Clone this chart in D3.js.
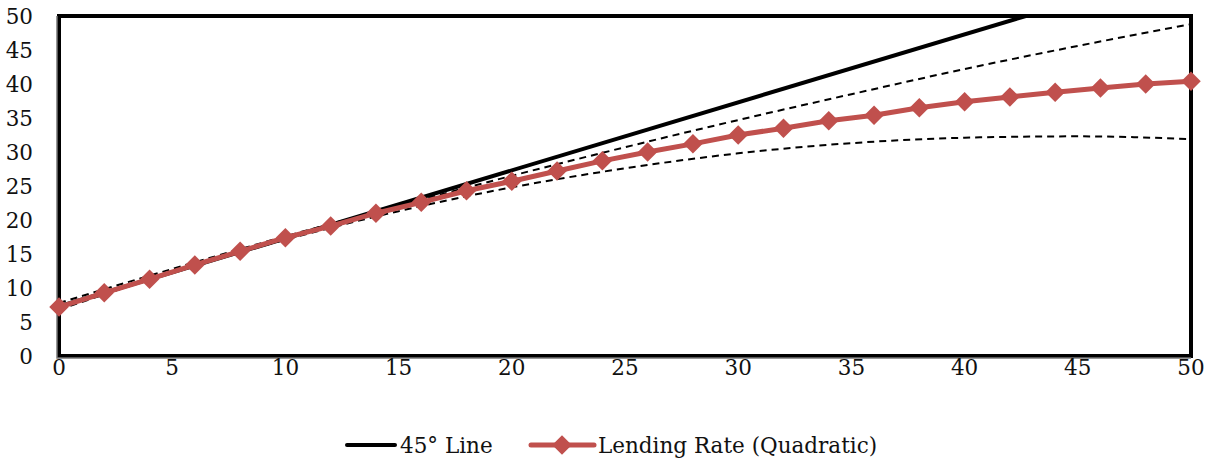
<!DOCTYPE html>
<meta charset="utf-8">
<style>
  body { margin: 0; background: #fff; }
  text { font-family: "DejaVu Serif", serif; font-size: 21.5px; fill: #111; }
</style>
<svg width="1215" height="465"></svg>
<script src="https://d3js.org/d3.v7.min.js"></script>
<script>
  var svg = d3.select("svg");

  // data
  var rateX = [0, 2, 4, 6, 8, 10, 12, 14, 16, 18, 20, 22, 24, 26, 28, 30, 32, 34, 36, 38, 40, 42, 44, 46, 48, 50];
  var rateY = [7.2, 9.3, 11.3, 13.4, 15.4, 17.4, 19.1, 21.0, 22.6, 24.3, 25.7, 27.2, 28.7, 30.0, 31.2, 32.5,
               33.5, 34.6, 35.4, 36.5, 37.4, 38.1, 38.8, 39.4, 40.0, 40.4];
  var bandX = [0, 5, 10, 15, 20, 25, 30, 35, 40, 45, 50];
  var upperY = [7.8, 12.8, 17.6, 22.1, 26.5, 30.7, 34.7, 38.5, 42.2, 45.6, 48.8];
  var lowerY = [6.8, 12.3, 17.1, 21.3, 24.8, 27.6, 29.8, 31.3, 32.1, 32.3, 31.9];
  var lineX = [0, 42.7];
  var lineY = [7.3, 50];
  var xTicks = [0, 5, 10, 15, 20, 25, 30, 35, 40, 45, 50];
  var yTicks = [0, 5, 10, 15, 20, 25, 30, 35, 40, 45, 50];

  var pl = 59, pr = 1191, pt = 16, pb = 356;
  var x = d3.scaleLinear().domain([0, 50]).range([pl, pr]);
  var y = d3.scaleLinear().domain([0, 50]).range([pb, pt]);

  function pts(xs, ys) {
    return xs.map(function(v, i) { return [v, ys[i]]; });
  }
  var line = d3.line()
    .x(function(d) { return x(d[0]); })
    .y(function(d) { return y(d[1]); });
  var smooth = d3.line()
    .curve(d3.curveMonotoneX)
    .x(function(d) { return x(d[0]); })
    .y(function(d) { return y(d[1]); });

  // frame
  svg.append("rect")
    .attr("x", pl).attr("y", pt)
    .attr("width", pr - pl).attr("height", pb - pt)
    .attr("fill", "none").attr("stroke", "#000").attr("stroke-width", 4);
  svg.append("path")
    .attr("d", "M" + (pl - 2) + "," + pt + "V" + (pb + 2) + "H" + pr)
    .attr("fill", "none").attr("stroke", "#777").attr("stroke-width", 1.5);

  // axis labels
  svg.append("g").selectAll("text")
    .data(xTicks).enter().append("text")
    .attr("x", function(d) { return x(d); })
    .attr("y", 375)
    .attr("text-anchor", "middle")
    .text(function(d) { return d; });
  svg.append("g").selectAll("text")
    .data(yTicks).enter().append("text")
    .attr("x", 33)
    .attr("y", function(d) { return y(d) + 8; })
    .attr("text-anchor", "end")
    .text(function(d) { return d; });

  // dashed bands
  [upperY, lowerY].forEach(function(ys) {
    svg.append("path")
      .attr("d", smooth(pts(bandX, ys)))
      .attr("fill", "none").attr("stroke", "#000")
      .attr("stroke-width", 2).attr("stroke-dasharray", "7,5");
  });

  // 45 degree line
  svg.append("path")
    .attr("d", line(pts(lineX, lineY)))
    .attr("fill", "none").attr("stroke", "#000").attr("stroke-width", 4);

  // lending rate
  var red = "#C0504D";
  svg.append("path")
    .attr("d", line(pts(rateX, rateY)))
    .attr("fill", "none").attr("stroke", red).attr("stroke-width", 5)
    .attr("stroke-linejoin", "round");
  var diamond = d3.symbol().type(d3.symbolSquare).size(190);
  svg.append("g").selectAll("path")
    .data(pts(rateX, rateY)).enter().append("path")
    .attr("d", diamond)
    .attr("fill", red)
    .attr("transform", function(d) { return "translate(" + x(d[0]) + "," + y(d[1]) + ") rotate(45)"; });

  // legend
  var lg = svg.append("g");
  lg.append("line").attr("x1", 347).attr("x2", 395).attr("y1", 445).attr("y2", 445)
    .attr("stroke", "#000").attr("stroke-width", 4).attr("stroke-linecap", "round");
  lg.append("text").attr("x", 400).attr("y", 453).text("45° Line");
  lg.append("line").attr("x1", 531).attr("x2", 594).attr("y1", 445).attr("y2", 445)
    .attr("stroke", red).attr("stroke-width", 5).attr("stroke-linecap", "round");
  lg.append("path").attr("d", diamond).attr("fill", red)
    .attr("transform", "translate(562,445) rotate(45)");
  lg.append("text").attr("x", 598).attr("y", 453).text("Lending Rate (Quadratic)");
</script>
